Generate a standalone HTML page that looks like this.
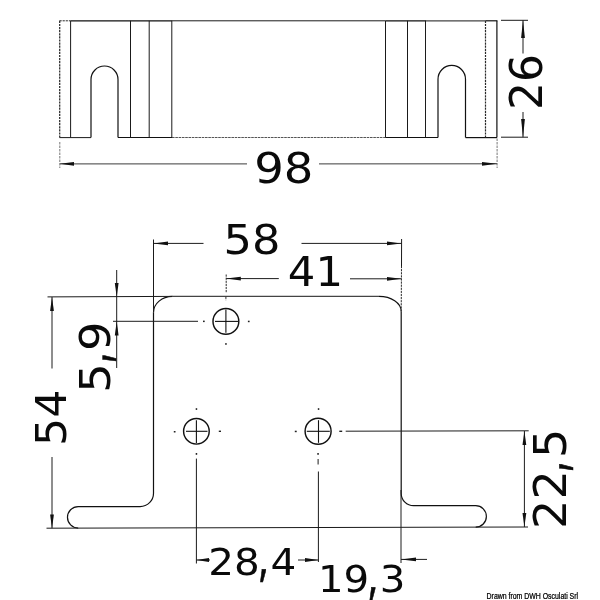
<!DOCTYPE html>
<html>
<head>
<meta charset="utf-8">
<title>Drawing</title>
<style>
  html, body { margin: 0; padding: 0; background: #ffffff; }
  body { width: 600px; height: 600px; overflow: hidden; }
  svg { display: block; will-change: transform; }
  .ln { stroke: #1a1a1a; stroke-width: 1; fill: none; }
  .thin { stroke: #1c1c1c; stroke-width: 1; fill: none; }
  .cross { stroke: #111; stroke-width: 1.1; fill: none; }
  .edge { stroke: #444; stroke-width: 1.3; fill: none; }
  .faint { stroke: #555; stroke-width: 1.1; fill: none; stroke-dasharray: 2.6 0.7; }
  .ext { stroke: #777; stroke-width: 1; fill: none; stroke-dasharray: 2.5 1; }
  .lt { stroke: #3c3c3c; stroke-width: 1; fill: none; }
  .hole { stroke: #111; stroke-width: 1.45; fill: none; }
  .dot { stroke: #2a2a2a; stroke-width: 1; fill: none; stroke-dasharray: 2.2 0.9; }
  .part { stroke: #111; stroke-width: 1.2; fill: none; stroke-linejoin: round; }
  .arr { fill: #111; stroke: none; }
  .dim { font-family: "DejaVu Sans", "Liberation Sans", sans-serif; fill: #0a0a0a; }
  .cm { font-family: "DejaVu Sans Light", "DejaVu Sans", sans-serif; font-weight: 200; stroke: #0a0a0a; stroke-width: 0.5; }
  .wm { font-family: "Liberation Sans", sans-serif; font-size: 8.2px; fill: #000; stroke: #000; stroke-width: 0.25; }
</style>
</head>
<body>
<svg width="600" height="600" viewBox="0 0 600 600">
  <rect x="0" y="0" width="600" height="600" fill="#ffffff"/>

  <!-- ============ TOP VIEW ============ -->
  <g id="topview">
    <!-- outline: top edge -->
    <line class="dot" x1="59.5" y1="20.8" x2="70.6" y2="20.8"/>
    <line class="part" x1="70.6" y1="20.8" x2="172" y2="20.8"/>
    <line class="ln" x1="172" y1="20.8" x2="385.5" y2="20.8"/>
    <line class="part" x1="385.5" y1="20.8" x2="426" y2="20.8"/>
    <line class="edge" x1="426" y1="20.8" x2="486" y2="20.8"/>
    <line class="part" x1="486" y1="20.8" x2="497.4" y2="20.8"/>
    <!-- left outer edge (faint/dotted) -->
    <line class="dot" style="stroke-width:1.25" x1="59.7" y1="20.8" x2="59.7" y2="137.6"/>
    <!-- right outer edge -->
    <line class="part" x1="496.9" y1="20.8" x2="496.9" y2="137.6"/>
    <!-- bottom edge pieces -->
    <line class="ln" x1="59.5" y1="137.6" x2="91" y2="137.6"/>
    <line class="part" x1="118" y1="137.5" x2="172" y2="137.5"/>
    <line class="faint" x1="172" y1="137.5" x2="385.5" y2="137.5"/>
    <line class="part" x1="385.5" y1="137.5" x2="438" y2="137.5"/>
    <line class="part" x1="465.5" y1="137.6" x2="497" y2="137.6"/>
    <!-- inner verticals left -->
    <line class="ln" x1="70.6" y1="20.8" x2="70.6" y2="137.6"/>
    <line class="ln" x1="130.5" y1="20.8" x2="130.5" y2="137.6"/>
    <line class="ln" x1="149.2" y1="20.8" x2="149.2" y2="137.6"/>
    <line class="ln" x1="171.8" y1="20.8" x2="171.8" y2="137.6"/>
    <!-- inner verticals right -->
    <line class="ln" x1="385.5" y1="20.8" x2="385.5" y2="137.6"/>
    <line class="ln" x1="407.5" y1="20.8" x2="407.5" y2="137.6"/>
    <line class="thin" x1="425.5" y1="20.8" x2="425.5" y2="137.6"/>
    <line class="dot" style="stroke-width:1.2" x1="485.5" y1="20.8" x2="485.5" y2="137.6"/>
    <!-- slots -->
    <path class="part" d="M91 137.6 V79.5 A13.5 13.5 0 0 1 118 79.5 V137.6"/>
    <path class="part" d="M438 137.6 V79.2 A13.75 13.75 0 0 1 465.5 79.2 V137.6"/>
  </g>

  <!-- 98 dimension -->
  <g id="dim98">
    <line class="ext" x1="59.8" y1="142" x2="59.8" y2="168"/>
    <line class="ext" x1="497.1" y1="138.5" x2="497.1" y2="168"/>
    <line class="lt" x1="60" y1="163.9" x2="247" y2="163.9"/>
    <line class="lt" x1="319" y1="163.9" x2="497" y2="163.8"/>
    <polygon class="arr" points="59.8,163.8 74,161.9 74,165.7"/>
    <polygon class="arr" points="497.1,163.8 482,161.9 482,165.7"/>
    <text class="dim" font-size="43.5" text-anchor="middle" transform="translate(283.8 183.2) scale(1.07 1)">98</text>
  </g>

  <!-- 26 dimension -->
  <g id="dim26">
    <line class="ln" x1="501" y1="20.3" x2="528" y2="20.3"/>
    <line class="ln" x1="501" y1="137.2" x2="528" y2="137.2"/>
    <line class="thin" x1="523" y1="20.3" x2="523" y2="53.5"/>
    <line class="thin" x1="523" y1="112" x2="523" y2="137.2"/>
    <polygon class="arr" points="523,20.3 521.1,38 524.9,38"/>
    <polygon class="arr" points="523,137.2 521.1,119 524.9,119"/>
    <text class="dim" font-size="44" text-anchor="middle" transform="translate(541.8 82) rotate(-90)">26</text>
  </g>

  <!-- ============ FRONT VIEW ============ -->
  <g id="frontview">
    <!-- bracket outline -->
    <path class="part" d="M153.5 312.5 V493.2 A13.4 13.4 0 0 1 140.1 506.6 H78.2 A10.75 10.75 0 0 0 78.2 528.1"/>
    <path class="part" d="M153.5 312.5 A19 16.1 0 0 1 172.5 296.4"/>
    <line class="edge" x1="172.5" y1="296.4" x2="379" y2="296.3"/>
    <path class="part" d="M379 296.3 A22.2 15 0 0 1 401.2 311.3"/>
    <path class="part" d="M401.2 311.3 V493.4 A12.4 12.4 0 0 0 413.6 505.7 H475.7 A10.7 10.7 0 0 1 475.7 527.1"/>
    <!-- base line -->
    <line class="ln" x1="46.5" y1="528.2" x2="528" y2="527"/>

    <!-- holes -->
    <circle class="hole" cx="225.9" cy="321.4" r="12.9"/>
    <line class="cross" x1="215" y1="321.4" x2="238.2" y2="321.4"/>
    <line class="cross" x1="225.9" y1="309.6" x2="225.9" y2="332.8"/>

    <circle class="hole" cx="196.4" cy="431.3" r="12.8"/>
    <line class="cross" x1="186" y1="431.3" x2="207.5" y2="431.3"/>
    <line class="cross" x1="196.4" y1="420.2" x2="196.4" y2="443.3"/>

    <circle class="hole" cx="318.1" cy="431.3" r="13"/>
    <line class="cross" x1="306.8" y1="431.3" x2="329.8" y2="431.3"/>
    <line class="cross" x1="318.5" y1="420.2" x2="318.5" y2="442.8"/>

    <!-- centre-mark dots -->
    <g fill="#222">
      <rect x="203" y="320.6" width="1.7" height="1.5"/>
      <rect x="247.9" y="320.7" width="1.7" height="1.5"/>
      <rect x="225.2" y="343.1" width="1.5" height="1.7"/>
      <rect x="173.8" y="431" width="1.7" height="1.5"/>
      <rect x="218.8" y="430.6" width="2.2" height="1.4"/>
      <rect x="195.7" y="408.2" width="1.5" height="1.7"/>
      <rect x="195.7" y="453" width="1.5" height="1.8"/>
      <rect x="294.8" y="430.7" width="1.9" height="1.5"/>
      <rect x="339.3" y="430.6" width="2.9" height="1.4"/>
      <rect x="317.8" y="408.2" width="1.5" height="1.7"/>
      <rect x="317.3" y="453" width="1.5" height="1.8"/>
    </g>
  </g>
  </g>

  <!-- 58 dimension -->
  <g id="dim58">
    <line class="ln" x1="153.5" y1="239.5" x2="153.5" y2="312.5"/>
    <line class="ln" x1="401.6" y1="239" x2="401.5" y2="266"/>
    <line class="dot" x1="401.5" y1="266" x2="401.2" y2="311.3"/>
    <line class="thin" x1="153.4" y1="243.4" x2="203.5" y2="243.4"/>
    <line class="thin" x1="301.5" y1="243.4" x2="401.5" y2="243.4"/>
    <polygon class="arr" points="153.4,243.4 168,241.5 168,245.3"/>
    <polygon class="arr" points="401.2,243.4 387,241.5 387,245.3"/>
    <text class="dim" font-size="41" text-anchor="middle" transform="translate(252 253.8) scale(1.09 1)">58</text>
  </g>

  <!-- 41 dimension -->
  <g id="dim41">
    <line class="dot" x1="226.2" y1="274.5" x2="226.2" y2="293"/>
    <line class="dot" x1="225.9" y1="296.7" x2="225.9" y2="300.2"/>
    <line class="thin" x1="226.2" y1="278.6" x2="278.8" y2="278.6"/>
    <line class="thin" x1="350" y1="278.8" x2="401.5" y2="278.8"/>
    <polygon class="arr" points="226.2,278.6 240.8,276.7 240.8,280.5"/>
    <polygon class="arr" points="401.2,278.8 387,276.9 387,280.7"/>
    <text class="dim" font-size="40.5" text-anchor="middle" transform="translate(315.4 286) scale(1.07 1)">41</text>
  </g>

  <!-- 5,9 dimension -->
  <g id="dim59">
    <line class="ln" x1="47.5" y1="296.9" x2="172.5" y2="296.4"/>
    <line class="thin" x1="113" y1="321.3" x2="198" y2="321.3"/>
    <line class="thin" x1="116.7" y1="270" x2="116.7" y2="368"/>
    <polygon class="arr" points="116.7,297 114.8,283 118.6,283"/>
    <polygon class="arr" points="116.7,321.3 114.8,335.5 118.6,335.5"/>
    <text class="dim" font-size="43" text-anchor="middle" transform="translate(109.5 357) rotate(-90) scale(1.08 1)">5<tspan class="cm" font-size="75" dx="-6.5" dy="-2.5">,</tspan><tspan dx="-6" dy="2.5">9</tspan></text>
  </g>

  <!-- 54 dimension -->
  <g id="dim54">
    <line class="thin" x1="52" y1="297" x2="52" y2="368.5"/>
    <line class="thin" x1="52" y1="457" x2="52" y2="528.2"/>
    <polygon class="arr" points="52,297 50.1,311 53.9,311"/>
    <polygon class="arr" points="52,528.2 50.1,514.5 53.9,514.5"/>
    <text class="dim" font-size="43" text-anchor="middle" transform="translate(66.3 417.8) rotate(-90) scale(1.03 1)">54</text>
  </g>

  <!-- 22,5 dimension -->
  <g id="dim225">
    <line class="thin" x1="345.7" y1="431.2" x2="528.7" y2="430.8"/>
    <line class="thin" x1="524.4" y1="431" x2="524.4" y2="527"/>
    <polygon class="arr" points="524.4,431 522.5,445 526.3,445"/>
    <polygon class="arr" points="524.4,527 522.5,513 526.3,513"/>
    <text class="dim" font-size="44" text-anchor="middle" transform="translate(566 478.7) rotate(-90) scale(1.05 1)">22<tspan class="cm" font-size="76" dx="-8.5" dy="-2.5">,</tspan><tspan dx="-4" dy="2.5">5</tspan></text>
  </g>

  <!-- 28,4 and 19,3 dimensions -->
  <g id="dimbottom">
    <line class="ln" x1="196.4" y1="458.6" x2="196.4" y2="563.5"/>
    <line class="thin" x1="318.1" y1="459" x2="318.1" y2="464.5"/>
    <line class="ln" x1="318.4" y1="471.5" x2="318.4" y2="562"/>
    <line class="thin" x1="401" y1="490" x2="401" y2="563"/>
    <line class="thin" x1="196.4" y1="560" x2="210" y2="560"/>
    <line class="thin" x1="298" y1="560" x2="318.4" y2="560"/>
    <line class="thin" x1="401" y1="559.4" x2="427" y2="559.4"/>
    <polygon class="arr" points="196.4,560 209,558.1 209,561.9"/>
    <polygon class="arr" points="318.4,560 305,558.1 305,561.9"/>
    <polygon class="arr" points="401,559.4 416,557.5 416,561.3"/>
    <text class="dim" font-size="37.5" text-anchor="middle" transform="translate(252.2 574.6) scale(1.08 1)">28<tspan class="cm" font-size="72" dx="-7.6" dy="-0.3">,</tspan><tspan dx="-5.4" dy="0.3">4</tspan></text>
    <text class="dim" font-size="37.5" text-anchor="middle" transform="translate(361.7 592.2) scale(1.075 1)">19<tspan class="cm" font-size="72" dx="-7.6" dy="-0.3">,</tspan><tspan dx="-5.4" dy="0.3">3</tspan></text>
  </g>

  <text class="wm" transform="translate(486.6 599) scale(0.845 1)">Drawn from DWH Osculati Srl</text>
</svg>
</body>
</html>
